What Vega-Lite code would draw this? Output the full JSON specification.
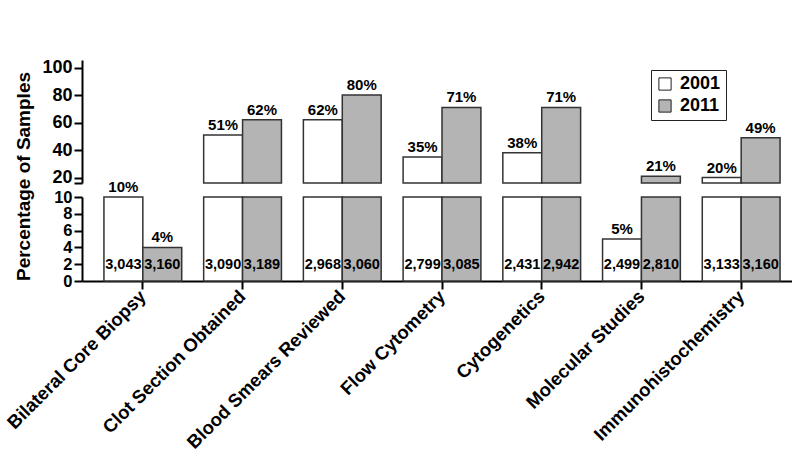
{
  "$schema": "https://vega.github.io/schema/vega-lite/v6.json",
  "background": "white",
  "padding": {"left": 3, "top": 58, "right": 0, "bottom": 0},
  "bounds": "flush",
  "spacing": 14,
  "config": {
    "view": {"stroke": null},
    "font": "Liberation Sans",
    "axis": {
      "domainColor": "black", "domainWidth": 2, "tickColor": "black", "tickWidth": 2, "tickSize": 8,
      "labelFont": "Liberation Sans", "labelFontWeight": "bold", "labelColor": "black", "labelFontSize": 18,
      "grid": false, "labelBound": false, "labelFlush": false, "labelLimit": 0,
      "titleFont": "Liberation Sans", "titleFontWeight": "bold", "titleColor": "black", "titleFontSize": 19
    }
  },
  "datasets": {
    "d": [
      {"category": "Bilateral Core Biopsy", "year": "2001", "pct": 10, "label": "10%", "n": 3043},
      {"category": "Bilateral Core Biopsy", "year": "2011", "pct": 4, "label": "4%", "n": 3160},
      {"category": "Clot Section Obtained", "year": "2001", "pct": 51, "label": "51%", "n": 3090},
      {"category": "Clot Section Obtained", "year": "2011", "pct": 62, "label": "62%", "n": 3189},
      {"category": "Blood Smears Reviewed", "year": "2001", "pct": 62, "label": "62%", "n": 2968},
      {"category": "Blood Smears Reviewed", "year": "2011", "pct": 80, "label": "80%", "n": 3060},
      {"category": "Flow Cytometry", "year": "2001", "pct": 35, "label": "35%", "n": 2799},
      {"category": "Flow Cytometry", "year": "2011", "pct": 71, "label": "71%", "n": 3085},
      {"category": "Cytogenetics", "year": "2001", "pct": 38, "label": "38%", "n": 2431},
      {"category": "Cytogenetics", "year": "2011", "pct": 71, "label": "71%", "n": 2942},
      {"category": "Molecular Studies", "year": "2001", "pct": 5, "label": "5%", "n": 2499},
      {"category": "Molecular Studies", "year": "2011", "pct": 21, "label": "21%", "n": 2810},
      {"category": "Immunohistochemistry", "year": "2001", "pct": 20, "label": "20%", "n": 3133},
      {"category": "Immunohistochemistry", "year": "2011", "pct": 49, "label": "49%", "n": 3160}
    ]
  },
  "resolve": {"legend": {"fill": "independent"}},
  "vconcat": [
    {
      "width": 720,
      "height": 123,
      "data": {"name": "d"},
      "transform": [{"filter": "datum.pct > 10"}],
      "encoding": {
        "x": {"field": "category", "type": "nominal", "axis": null,
          "scale": {"domain": ["Bilateral Core Biopsy", "Clot Section Obtained", "Blood Smears Reviewed", "Flow Cytometry", "Cytogenetics", "Molecular Studies", "Immunohistochemistry"], "paddingInner": 0.22, "paddingOuter": 0.22}},
        "xOffset": {"field": "year", "type": "nominal", "scale": {"domain": ["2001", "2011"], "paddingInner": 0, "paddingOuter": 0}}
      },
      "layer": [
        {
          "mark": {"type": "bar", "stroke": "#333333", "strokeWidth": 1.5},
          "encoding": {
            "y": {"field": "pct", "type": "quantitative",
              "scale": {"domain": [16, 105.5], "nice": false, "zero": false, "clamp": true},
              "axis": {"values": [16, 20, 40, 60, 80, 100], "tickCount": 50, "format": "d", "labelExpr": "datum.value == 16 ? '' : datum.label", "labelPadding": 2, "labelOverlap": false,
                "title": "Percentage of Samples", "titleY": 116, "titleX": -49, "titleAngle": -90, "titleBaseline": "bottom", "titleAlign": "center"}},
            "y2": {"datum": 0},
            "fill": {"field": "year", "type": "nominal",
              "scale": {"domain": ["2001", "2011"], "range": ["#ffffff", "#b4b4b4"]},
              "legend": {"orient": "none", "legendX": 569, "legendY": 10, "title": null, "symbolType": "square", "symbolSize": 150,
                "symbolStrokeColor": "#222222", "symbolStrokeWidth": 1, "symbolOpacity": 1, "labelFontSize": 18, "labelFont": "Liberation Sans", "labelFontWeight": "bold", "labelColor": "black",
                "strokeColor": "#222222", "padding": 5, "rowPadding": 4, "labelOffset": 6}}
          }
        },
        {
          "mark": {"type": "text", "font": "Liberation Sans", "fontWeight": "bold", "fontSize": 15, "baseline": "alphabetic", "dy": -5, "color": "black"},
          "encoding": {
            "y": {"field": "pct", "type": "quantitative"},
            "text": {"field": "label"}
          }
        }
      ]
    },
    {
      "width": 720,
      "height": 84,
      "data": {"name": "d"},
      "encoding": {
        "x": {"field": "category", "type": "nominal",
          "scale": {"domain": ["Bilateral Core Biopsy", "Clot Section Obtained", "Blood Smears Reviewed", "Flow Cytometry", "Cytogenetics", "Molecular Studies", "Immunohistochemistry"], "paddingInner": 0.22, "paddingOuter": 0.22},
          "axis": {"title": null, "labelAngle": -45, "labelAlign": "right", "labelBaseline": "middle", "labelPadding": 4, "labelLimit": 0, "labelFontSize": 18.5}},
        "xOffset": {"field": "year", "type": "nominal", "scale": {"domain": ["2001", "2011"], "paddingInner": 0, "paddingOuter": 0}}
      },
      "layer": [
        {
          "mark": {"type": "bar", "stroke": "#333333", "strokeWidth": 1.5},
          "encoding": {
            "y": {"field": "pct", "type": "quantitative",
              "scale": {"domain": [0, 10], "nice": false, "clamp": true},
              "axis": {"values": [0, 2, 4, 6, 8, 10], "tickCount": 50, "format": "d", "labelFontSize": 16.5, "labelPadding": 2, "labelOverlap": false, "title": null}},
            "y2": {"datum": 0},
            "fill": {"field": "year", "type": "nominal",
              "scale": {"domain": ["2001", "2011"], "range": ["#ffffff", "#b4b4b4"]}, "legend": null}
          }
        },
        {
          "transform": [{"filter": "datum.pct <= 10"}],
          "mark": {"type": "text", "font": "Liberation Sans", "fontWeight": "bold", "fontSize": 15, "baseline": "alphabetic", "dy": -5, "color": "black"},
          "encoding": {
            "y": {"field": "pct", "type": "quantitative"},
            "text": {"field": "label"}
          }
        },
        {
          "mark": {"type": "text", "font": "Liberation Sans", "fontWeight": "bold", "fontSize": 14.5, "baseline": "middle", "color": "black"},
          "encoding": {
            "y": {"datum": 1.9},
            "text": {"field": "n", "type": "quantitative", "format": ",d"}
          }
        }
      ]
    }
  ]
}
